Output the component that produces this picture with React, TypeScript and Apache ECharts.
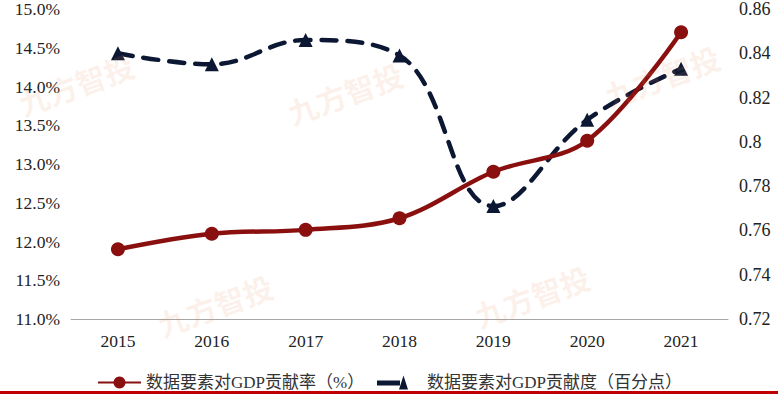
import React, { useEffect, useRef } from "react";
import * as echarts from "echarts";

const years = ["2015", "2016", "2017", "2018", "2019", "2020", "2021"];
const rateValues = [11.9, 12.1, 12.15, 12.3, 12.9, 13.3, 14.7];
const degreeValues = [0.84, 0.835, 0.846, 0.839, 0.771, 0.81, 0.833];
const rateName = "数据要素对GDP贡献率（%）";
const degreeName = "数据要素对GDP贡献度（百分点）";
const watermarkText = "九方智投";
const watermarkSpots = [
  [76, 84],
  [345, 93],
  [662, 76],
  [215, 305],
  [532, 296],
];

const RED = "#8a1010";
const NAVY = "#0c1733";
const SERIF = "'Liberation Serif', 'Noto Sans CJK SC', serif";

export default function App() {
  const ref = useRef<HTMLDivElement>(null);
  useEffect(() => {
    const chart = echarts.init(ref.current!, null, { renderer: "svg" });
    chart.setOption({
      animation: false,
      backgroundColor: "#ffffff",
      grid: { left: 71, right: 50, top: 7, bottom: 75, containLabel: false },
      legend: [
        {
          data: [rateName],
          left: 92,
          top: 369,
          itemWidth: 43,
          itemHeight: 15,
          textStyle: { fontFamily: SERIF, fontSize: 17, color: "#333" },
        },
        {
          data: [{ name: degreeName, icon: "path://M0,5 L23,5 L23,10 L0,10 Z M22,14 L26.5,0 L31,14 Z" }],
          left: 372,
          top: 369,
          itemWidth: 31,
          itemHeight: 14,
          textStyle: { fontFamily: SERIF, fontSize: 17, color: "#333", padding: [0, 0, 0, 14] },
        },
      ],
      xAxis: {
        type: "category",
        data: years,
        boundaryGap: true,
        axisLine: { show: true, lineStyle: { color: "#a6a6a6", width: 1 } },
        axisTick: { show: false },
        axisLabel: { fontFamily: SERIF, fontSize: 17.5, color: "#222", margin: 13 },
      },
      yAxis: [
        {
          type: "value",
          min: 11,
          max: 15,
          interval: 0.5,
          axisLine: { show: false },
          axisTick: { show: false },
          splitLine: { show: false },
          axisLabel: {
            fontFamily: SERIF,
            fontSize: 17.5,
            color: "#222",
            margin: 11,
            formatter: (v: number) => v.toFixed(1) + "%",
          },
        },
        {
          type: "value",
          min: 0.72,
          max: 0.86,
          interval: 0.02,
          axisLine: { show: false },
          axisTick: { show: false },
          splitLine: { show: false },
          axisLabel: {
            fontFamily: SERIF,
            fontSize: 18,
            color: "#222",
            margin: 11,
            formatter: (v: number) => String(parseFloat(v.toFixed(2))),
          },
        },
      ],
      series: [
        {
          name: degreeName,
          type: "line",
          yAxisIndex: 1,
          data: degreeValues,
          smooth: 0.4,
          symbol: "triangle",
          symbolSize: 14,
          itemStyle: { color: NAVY },
          lineStyle: { color: NAVY, width: 4.5, type: [15, 11], cap: "round" },
          z: 2,
        },
        {
          name: rateName,
          type: "line",
          yAxisIndex: 0,
          data: rateValues,
          smooth: 0.35,
          symbol: "circle",
          symbolSize: 14,
          itemStyle: { color: RED },
          lineStyle: { color: RED, width: 4.5 },
          z: 3,
        },
      ],
      graphic: [
        ...watermarkSpots.map(([x, y]) => ({
          type: "text",
          x,
          y,
          rotation: (20 * Math.PI) / 180,
          silent: true,
          z: 100,
          style: {
            text: watermarkText,
            fill: "rgba(235,140,90,0.12)",
            font: "bold 30px 'Noto Sans CJK SC'",
            align: "center",
            verticalAlign: "middle",
          },
        })),
        {
          type: "rect",
          left: 0,
          bottom: 0,
          shape: { width: 778, height: 3 },
          style: { fill: "#c00000" },
          silent: true,
        },
      ],
    });
    return () => chart.dispose();
  }, []);
  return <div ref={ref} style={{ width: 778, height: 394, position: "absolute", left: 0, top: 0 }} />;
}
